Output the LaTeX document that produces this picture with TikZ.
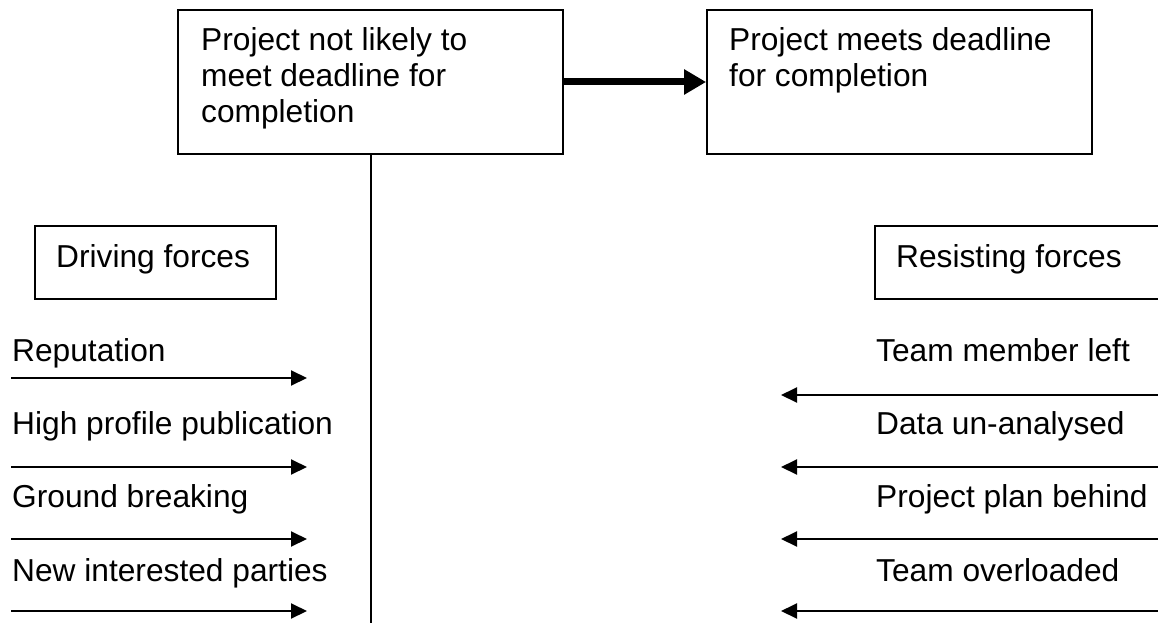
\documentclass[tikz,border=0pt]{standalone}
\usepackage{fontspec}
\setmainfont{Liberation Sans}
\usetikzlibrary{arrows.meta}
\begin{document}
\begin{tikzpicture}[x=1pt,y=-1pt,
  box/.style={draw, line width=1.8pt, rectangle, inner sep=0pt},
  lbl/.style={inner sep=0pt, anchor=base west, font=\fontsize{31.7}{36}\selectfont},
  force/.style={line width=2pt, -{Triangle[length=16pt,width=15pt]}},
  bigarrow/.style={line width=7pt, -{Triangle[length=22pt,width=24pt]}},
  stem/.style={line width=2pt}]
\clip (0,0) rectangle (1158,623);
\fill[white] (0,0) rectangle (1158,623);
% top boxes
\node[box, minimum width=385, minimum height=144] (b1) at (370.5,82) {};
\node[box, minimum width=385, minimum height=144] (b2) at (899.5,82) {};
\node[lbl] (t1a) at (201,51) {Project not likely to};
\node[lbl] (t1b) at (201,87) {meet deadline for};
\node[lbl] (t1c) at (201,123) {completion};
\node[lbl] (t2a) at (729,51) {Project meets deadline};
\node[lbl] (t2b) at (729,87) {for completion};
\draw[bigarrow] (b1.east) -- (b2.west);
% stem
\coordinate (sbot) at (370.5,640);
\draw[stem] (b1.south) -- (sbot);
% headings
\node[box, minimum width=241, minimum height=73] (db) at (155.5,262.5) {};
\node[lbl] (dt) at (56,267) {Driving forces};
\node[box, minimum width=320, minimum height=73] (rb) at (1035,262.5) {};
\node[lbl] (rt) at (896,267) {Resisting forces};
% driving forces
\node[lbl] (d1) at (12,361) {Reputation};
\node[lbl] (d2) at (12,434) {High profile publication};
\node[lbl] (d3) at (12,507) {Ground breaking};
\node[lbl] (d4) at (12,581) {New interested parties};
\coordinate (da1) at (11,378);  \coordinate (db1) at (307,378);
\coordinate (da2) at (11,467);  \coordinate (db2) at (307,467);
\coordinate (da3) at (11,539);  \coordinate (db3) at (307,539);
\coordinate (da4) at (11,611);  \coordinate (db4) at (307,611);
\draw[force] (da1) -- (db1);
\draw[force] (da2) -- (db2);
\draw[force] (da3) -- (db3);
\draw[force] (da4) -- (db4);
% resisting forces
\node[lbl] (r1) at (876,361) {Team member left};
\node[lbl] (r2) at (876,434) {Data un-analysed};
\node[lbl] (r3) at (876,507) {Project plan behind};
\node[lbl] (r4) at (876,581) {Team overloaded};
\coordinate (ra1) at (1170,395);  \coordinate (rb1) at (781,395);
\coordinate (ra2) at (1170,467);  \coordinate (rb2) at (781,467);
\coordinate (ra3) at (1170,539);  \coordinate (rb3) at (781,539);
\coordinate (ra4) at (1170,611);  \coordinate (rb4) at (781,611);
\draw[force] (ra1) -- (rb1);
\draw[force] (ra2) -- (rb2);
\draw[force] (ra3) -- (rb3);
\draw[force] (ra4) -- (rb4);
\end{tikzpicture}
\end{document}
